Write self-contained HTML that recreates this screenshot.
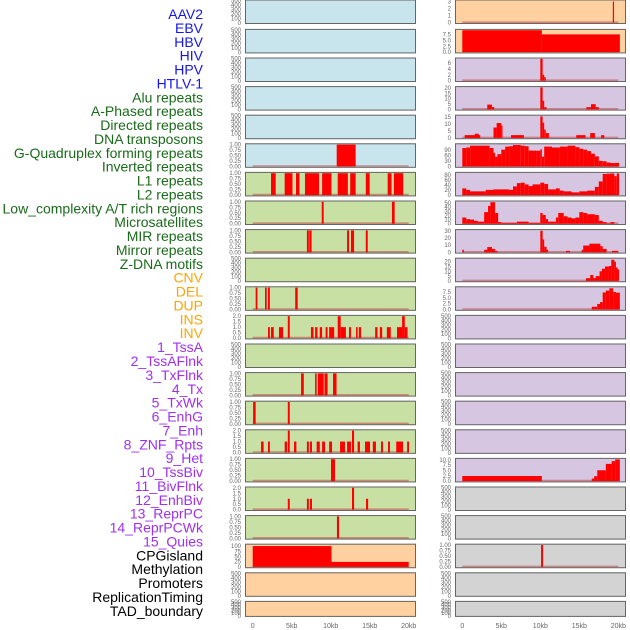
<!DOCTYPE html>
<html><head><meta charset="utf-8">
<style>
html,body{margin:0;padding:0;background:#fff;}
svg{display:block;font-family:"Liberation Sans",sans-serif;}
</style></head>
<body>
<svg id="chart" width="630" height="630" viewBox="0 0 630 630" xmlns="http://www.w3.org/2000/svg">
<g id="labels"></g>
<g id="panels"></g>
</svg>
<script>
// ---------- data ----------
const trackLabels = ["AAV2","EBV","HBV","HIV","HPV","HTLV-1","Alu repeats","A-Phased repeats","Directed repeats","DNA transposons","G-Quadruplex forming repeats","Inverted repeats","L1 repeats","L2 repeats","Low_complexity A/T rich regions","Microsatellites","MIR repeats","Mirror repeats","Z-DNA motifs","CNV","DEL","DUP","INS","INV","1_TssA","2_TssAFlnk","3_TxFlnk","4_Tx","5_TxWk","6_EnhG","7_Enh","8_ZNF_Rpts","9_Het","10_TssBiv","11_BivFlnk","12_EnhBiv","13_ReprPC","14_ReprPCWk","15_Quies","CPGisland","Methylation","Promoters","ReplicationTiming","TAD_boundary"];
const labelGroups = [6,13,5,15,5]; // viruses, repeats, SV, chromatin states, other
const xTickValues = [0,5,10,15,20];
const xTickLabels = ["0","5kb","10kb","15kb","20kb"];

// left column segments [startKb, endKb, value]
const leftR5 = [[10.77,13.2,1]];
const leftR6 = [[2.35,2.95,1],[4.1,5.1,1],[5.55,6.0,1],[6.7,8.5,1],[8.9,10.1,1],[10.9,12.2,1],[12.5,13.2,1],[14.5,15.0,1],[17.3,17.8,1],[18.1,19.3,1]];
const leftR7 = [[8.85,9.1,1],[17.85,18.2,1]];
const leftR8 = [[6.95,7.2,1],[7.25,7.55,1],[12.1,12.35,1],[12.6,13.0,1],[14.5,14.75,1]];
const leftR10 = [[0.38,0.6,1],[1.58,1.8,1],[1.96,2.2,1],[5.45,5.77,1]];
const leftR11 = [[1.96,2.2,1],[2.35,2.7,1],[3.37,3.9,1],[4.5,4.75,2],[7.47,7.8,1],[8.0,8.3,1],[8.6,8.9,1],[9.35,9.6,1],[9.8,10.45,1],[10.9,11.28,2],[11.28,11.95,1],[12.35,12.6,1],[13.25,13.45,1],[13.6,13.9,1],[15.7,16.0,1],[16.3,16.6,1],[17.2,17.7,1],[18.5,19.15,1],[19.15,19.5,2],[19.5,19.85,1]];
const leftR13 = [[6.2,6.55,1],[8.0,8.2,1],[8.35,9.1,1],[9.2,9.6,1],[10.3,10.75,1]];
const leftR14 = [[0.05,0.38,1],[4.5,4.75,1]];
const leftR15 = [[1.07,1.4,1],[1.96,2.2,1],[4.1,4.4,1],[4.5,4.75,2],[5.3,5.6,1],[6.95,7.2,1],[7.35,7.6,1],[8.2,8.6,1],[8.9,9.27,1],[9.8,10.17,1],[11.2,11.83,1],[12.1,12.6,1],[12.73,13.0,2],[13.45,13.75,1],[14.4,15.04,1],[15.4,15.8,1],[16.45,16.7,1],[17.35,17.6,1],[18.4,19.27,1],[19.8,20.04,1]];
const leftR16 = [[10.04,10.55,1]];
const leftR17 = [[4.5,4.75,1],[6.95,7.2,1],[7.35,7.6,1],[12.73,13.0,2],[14.53,14.8,1]];
const leftR18 = [[10.8,11.07,1]];
const leftR19 = [[0,10.1,100],[10.1,20,24]];

// right column segments
const rightR0 = [[19.3,19.45,3]];
const rightR1 = [[0,10.2,9.4],[10.2,20.2,7.6]];
const rightR2 = [[10,10.3,7.4],[10.3,10.5,2],[10.5,10.7,1.2]];
const rightR3 = [[3.2,3.8,4.4],[3.8,4.1,2],[10,10.3,20.5],[10.3,10.5,8],[10.5,10.8,2],[15.9,16.5,2],[16.5,17.1,4.8],[17.1,17.5,2]];
const rightR4 = [[0.3,2.3,2],[1.6,2.1,3],[4.0,4.4,7.5],[4.4,5.0,10.7],[5.0,5.1,9],[6.25,7.9,2],[10,10.3,15.5],[10.3,10.5,11],[10.5,10.7,6],[10.7,11.1,3.5],[14.6,15.8,2],[16.4,17.0,3.5],[17.8,18.2,2]];
// right column step profiles [kb, value] (step until next kb)
const rightR5 = [[0,102],[0.5,105],[1,115],[3.5,102],[4,76],[4.2,54],[4.5,68],[5,93],[5.5,110],[6,112],[6.5,119],[7.5,115],[8,112],[8.5,88],[9.5,87],[10,95],[10.2,54],[10.5,110],[11.5,105],[12.5,110],[13.5,115],[14.5,107],[15,98],[15.5,93],[16,85],[16.5,71],[17,56],[17.5,31],[18,29],[18.5,22],[19,19],[19.5,20]];
const rightR6 = [[0,27],[0.5,21],[1,15],[3,21],[4,23],[6,21],[6.5,35],[7,48],[7.5,50],[8,43],[8.5,36],[9,43],[10,50],[10.5,45],[11,23],[12,27],[12.5,18],[13,15],[14,11],[15,15],[16,18],[17,33],[17.5,55],[18,85],[18.5,86],[19,87],[19.5,76],[19.8,87]];
const rightR7 = [[0,15],[0.5,11],[1,10],[1.5,7],[2,5],[2.8,28],[3.3,43],[3.6,52],[4.2,26],[4.6,4],[5,2],[7,5],[8.5,2],[10,26],[10.3,21],[10.7,11],[11,5],[12,15],[12.3,26],[13,18],[13.5,15],[14,13],[14.5,15],[15,28],[15.5,26],[16,23],[17,21],[17.5,7],[18,4],[18.5,1],[19,4],[19.5,0]];
const rightR8 = [[0,3.5],[0.2,0],[2.8,3.5],[3.2,7.3],[3.8,4.7],[4.2,2],[4.5,0],[10,30],[10.3,18],[10.5,7.7],[10.8,3.5],[11,0],[13.3,2],[13.8,0],[15.3,3.5],[15.5,9.4],[16.3,12],[17.7,8.6],[18,4.7],[18.5,0],[19.2,2]];
const rightR9 = [[0,0],[15.85,2.8],[16.4,6.2],[16.8,3],[17.1,5],[17.6,10],[17.9,12.6],[18.3,15],[18.8,15.5],[19.1,22],[19.5,20],[19.7,14],[19.9,12]];
const rightR10 = [[0,0],[16.6,1.2],[17.3,2.4],[17.65,3.2],[18,7.4],[18.4,8.2],[18.85,9.2],[19.35,7.6],[19.7,7.3]];
const rightR16 = [[0,10.2,2.4],[16.6,16.9,1.2],[16.9,17.3,2.3],[17.3,18.4,5.1],[18.4,19.15,8.1],[19.15,19.6,9.4],[19.6,20.2,10.2]];
const rightR19 = [[10.1,10.35,1]];

// tick sets
const ticksEmpty = [0,100,200,300,400,500];
const ticksUnit = [0,0.25,0.5,0.75,1];
const ticksTwo = [0,0.5,1,1.5,2];

// ---------- layout ----------
const NS = "http://www.w3.org/2000/svg";
const cols = [{x:245,w:171,zero:252.7},{x:455,w:171,zero:462.3}];
const KB = 7.8;
const colors = {blue:"#c8e4ec",green:"#c8e0a4",orange:"#ffd0a0",purple:"#d6c6e2",gray:"#d3d3d3"};
function rowTop(i){return i===0?-0.5:0.3+28.6*i;}
function rowH(i){return i===21?16:24.5;}
function xScale(c,kb){return cols[c].zero+kb*KB;}
function fmt(v,dec){return v.toFixed(dec);}
function profileToSegs(pts,end){const s=[];for(let i=0;i<pts.length;i++){const e=i<pts.length-1?pts[i+1][0]:end;s.push([pts[i][0],e,pts[i][1]]);}return s;}

const leftPanels=[];
const rightPanels=[];
for(let i=0;i<22;i++){
  leftPanels.push({bg:i<6?colors.blue:(i<19?colors.green:colors.orange),segs:null,dmax:500,ticks:ticksEmpty,dec:0});
  rightPanels.push({bg:i<2?colors.orange:(i<17?colors.purple:colors.gray),segs:null,dmax:500,ticks:ticksEmpty,dec:0});
}
function setP(arr,i,segs,dmax,ticks,dec){arr[i].segs=segs;arr[i].dmax=dmax;arr[i].ticks=ticks;arr[i].dec=dec;}
setP(leftPanels,5,leftR5,1,ticksUnit,2);
setP(leftPanels,6,leftR6,1,ticksUnit,2);
setP(leftPanels,7,leftR7,1,ticksUnit,2);
setP(leftPanels,8,leftR8,1,ticksUnit,2);
setP(leftPanels,10,leftR10,1,ticksUnit,2);
setP(leftPanels,11,leftR11,2,ticksTwo,1);
setP(leftPanels,13,leftR13,1,ticksUnit,2);
setP(leftPanels,14,leftR14,1,ticksUnit,2);
setP(leftPanels,15,leftR15,2,ticksTwo,1);
setP(leftPanels,16,leftR16,1,ticksUnit,2);
setP(leftPanels,17,leftR17,2,ticksTwo,1);
setP(leftPanels,18,leftR18,1,ticksUnit,2);
setP(leftPanels,19,leftR19,105,[0,25,50,75,100],0);
setP(rightPanels,0,rightR0,3.1,[0,1,2,3],0);
setP(rightPanels,1,rightR1,9.4,[0,2.5,5,7.5],1);
setP(rightPanels,2,rightR2,7.4,[0,2,4,6],0);
setP(rightPanels,3,rightR3,20.5,[0,5,10,15,20],0);
setP(rightPanels,4,rightR4,15.8,[0,5,10,15],0);
setP(rightPanels,5,profileToSegs(rightR5,20.1),121,[0,30,60,90],0);
setP(rightPanels,6,profileToSegs(rightR6,20.1),88,[0,20,40,60,80],0);
setP(rightPanels,7,profileToSegs(rightR7,20),53,[0,10,20,30,40,50],0);
setP(rightPanels,8,profileToSegs(rightR8,20),30.5,[0,10,20,30],0);
setP(rightPanels,9,profileToSegs(rightR9,20.1),22.8,[0,5,10,15,20],0);
setP(rightPanels,10,profileToSegs(rightR10,20.2),9.5,[0,2.5,5,7.5],1);
setP(rightPanels,16,rightR16,10.3,[0,2.5,5,7.5,10],1);
setP(rightPanels,19,rightR19,1,ticksUnit,2);

// ---------- draw labels ----------
const labelColors=["#1515ee","#1a6b1a","#ffa500","#a030f0","#000000"];
const lg=document.getElementById("labels");
let gi=0,cnt=0;
trackLabels.forEach((t,i)=>{
  while(cnt>=labelGroups[gi]){cnt=0;gi++;}
  cnt++;
  const el=document.createElementNS(NS,"text");
  
  
  el.setAttribute("x",203);
  el.setAttribute("y",14+13.88*i+5);
  el.setAttribute("text-anchor","end");
  el.setAttribute("font-size","14");
  el.setAttribute("fill",labelColors[gi]);
  el.textContent=t;
  lg.appendChild(el);
});

// ---------- draw panels ----------
const pg=document.getElementById("panels");
function drawPanel(c,i,p){
  const g=document.createElementNS(NS,"g");
  
  
  const top=rowTop(i),h=rowH(i),bot=top+h,x0=cols[c].x,w=cols[c].w;
  const pad=1.3;
  const yS=v=>bot-pad-v/p.dmax*(h-2*pad);
  const bg=document.createElementNS(NS,"rect");
  
  
  bg.setAttribute("x",x0);bg.setAttribute("y",top);bg.setAttribute("width",w);bg.setAttribute("height",h);
  bg.setAttribute("fill",p.bg);
  g.appendChild(bg);
  if(p.segs){
    const base=document.createElementNS(NS,"line");
    
    
    base.setAttribute("x1",xScale(c,0));base.setAttribute("x2",xScale(c,20));
    base.setAttribute("y1",yS(0)-0.5);base.setAttribute("y2",yS(0)-0.5);
    base.setAttribute("stroke","#c85050");base.setAttribute("stroke-opacity","0.6");base.setAttribute("stroke-width","1.6");
    g.appendChild(base);
    p.segs.forEach(s=>{
      if(s[2]<=0)return;
      const r=document.createElementNS(NS,"rect");
      
      
      const xa=xScale(c,s[0]),xb=xScale(c,s[1]);
      r.setAttribute("x",xa);r.setAttribute("width",Math.max(1.2,xb-xa));
      r.setAttribute("y",yS(s[2]));r.setAttribute("height",yS(0)-yS(s[2]));
      r.setAttribute("fill","#ff0000");
      g.appendChild(r);
    });
  }
  const fr=document.createElementNS(NS,"rect");
  
  
  fr.setAttribute("x",x0+0.5);fr.setAttribute("y",top+0.5);fr.setAttribute("width",w-1);fr.setAttribute("height",h-1);
  fr.setAttribute("fill","none");fr.setAttribute("stroke","#666");fr.setAttribute("stroke-width","1");
  g.appendChild(fr);
  p.ticks.forEach(v=>{
    const t=document.createElementNS(NS,"text");
    
    
    t.setAttribute("x",x0-4);
    const yy=p.segs?yS(v):bot-1-v/p.dmax*(h-2);
    t.setAttribute("y",yy+2);
    t.setAttribute("text-anchor","end");
    t.setAttribute("font-size","6");
    t.setAttribute("fill","#666");
    t.textContent=fmt(v,p.dec);
    g.appendChild(t);
  });
  pg.appendChild(g);
}
for(let i=0;i<22;i++){drawPanel(0,i,leftPanels[i]);drawPanel(1,i,rightPanels[i]);}
for(let c=0;c<2;c++){
  xTickValues.forEach((v,k)=>{
    const t=document.createElementNS(NS,"text");
    
    
    t.setAttribute("x",xScale(c,v));
    t.setAttribute("y",628);
    t.setAttribute("text-anchor","middle");
    t.setAttribute("font-size","7");
    t.setAttribute("fill","#666");
    t.textContent=xTickLabels[k];
    pg.appendChild(t);
  });
}
</script>
</body></html>
